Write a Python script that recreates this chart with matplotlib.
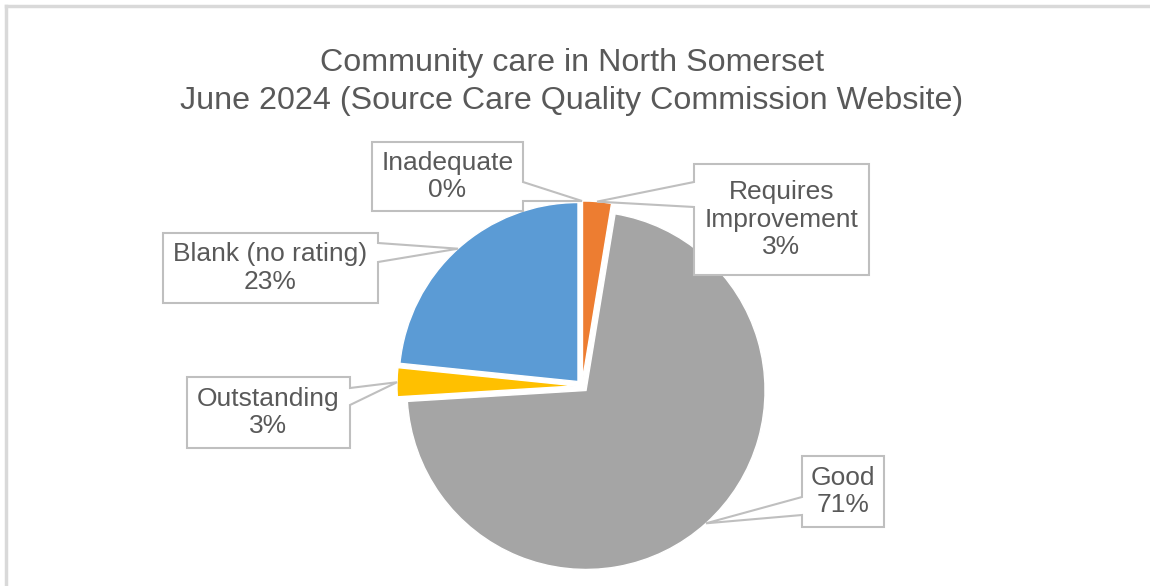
import matplotlib
matplotlib.use("Agg")
import matplotlib.pyplot as plt
from matplotlib.patches import Polygon
import numpy as np

categories = ["Inadequate", "Requires\nImprovement", "Good", "Outstanding", "Blank (no rating)"]
counts = [0, 2, 55, 2, 18]
colors = ["#4472C4", "#ED7D31", "#A5A5A5", "#FFC000", "#5B9BD5"]
title_lines = ["Community care in North Somerset",
               "June 2024 (Source Care Quality Commission Website)"]

W, H = 1150, 586
plt.rcParams['font.family'] = ['Liberation Sans', 'DejaVu Sans']
fig = plt.figure(figsize=(W / 100, H / 100), dpi=100)
ax = fig.add_axes([0, 0, 1, 1])
ax.set_xlim(0, W)
ax.set_ylim(0, H)
ax.set_aspect('equal')
ax.axis('off')

def py(y):
    return H - y

center = (582, py(386))
radius = 179
expl = 6  # explode offset in data units (pixels)
wedges, _ = ax.pie(counts, colors=colors, startangle=90, counterclock=False,
                   radius=radius, center=center, explode=[expl] * len(counts),
                   wedgeprops=dict(edgecolor='white', linewidth=1), frame=True)
ax.set_xlim(0, W)
ax.set_ylim(0, H)
ax.axis('off')

# frame lines (chart area border)
ax.plot([6, W], [py(6), py(6)], color='#D9D9D9', lw=2.5, clip_on=False)
ax.plot([6, 6], [py(6), 0], color='#D9D9D9', lw=2.5, clip_on=False)

ax.text(572, py(63), title_lines[0], ha='center', va='center', fontsize=23.2, color='#595959')
ax.text(572, py(101), title_lines[1], ha='center', va='center', fontsize=23.2, color='#595959')

total = sum(counts)
pcts = [f"{round(100 * c / total):.0f}%" for c in counts]

# label boxes: (left, top, right, bottom) in pixel coords, side of pointer, base y-range
boxes = [
    (372, 142, 523, 211, 'right', 182, 201),
    (694, 164, 869, 275, 'left', 182, 207),
    (802, 456, 884, 527, 'left', 497, 515),
    (187, 377, 350, 448, 'right', 388, 405),
    (163, 233, 378, 303, 'right', 243, 262),
]

for w, lab, pct, bx in zip(wedges, categories, pcts, boxes):
    mid = np.deg2rad((w.theta1 + w.theta2) / 2)
    cx, cy = w.center
    tip = (cx + w.r * np.cos(mid), cy + w.r * np.sin(mid))
    l, t, r, b, side, y0, y1 = bx
    if side == 'right':
        verts = [(l, py(t)), (r, py(t)), (r, py(y0)), tip, (r, py(y1)), (r, py(b)), (l, py(b))]
    else:
        verts = [(l, py(t)), (r, py(t)), (r, py(b)), (l, py(b)), (l, py(y1)), tip, (l, py(y0))]
    ax.add_patch(Polygon(verts, closed=True, facecolor='white', edgecolor='#BFBFBF', lw=1.5, zorder=5))
    ax.text((l + r) / 2, py((t + b) / 2), f"{lab}\n{pct}", ha='center', va='center',
            fontsize=19, color='#595959', linespacing=1.17, zorder=6)

fig.savefig("out.png", dpi=100, facecolor='white')
